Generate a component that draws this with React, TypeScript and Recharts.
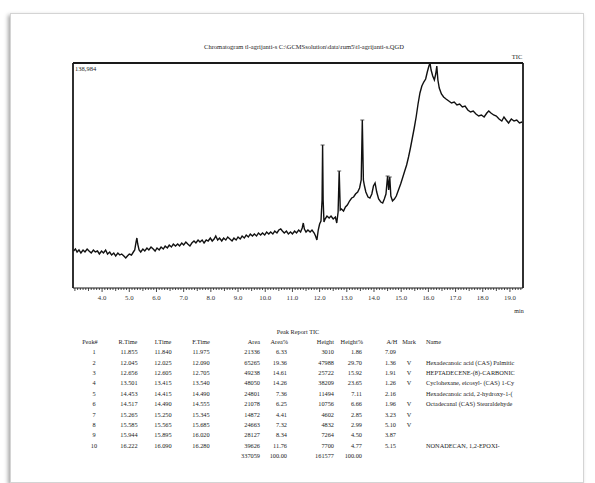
import React from "react";
import { LineChart, Line, XAxis, YAxis, ReferenceDot } from "recharts";

// Chromatogram trace: [retention time (min), intensity]
const trace: [number, number][] = [
  [2.95,22855],[3.02,24090],[3.08,22237],[3.15,23473],[3.22,21620],[3.30,23473],[3.37,22237],[3.45,24090],[3.52,22855],[3.60,21620],
  [3.68,23473],[3.75,22237],[3.83,22855],[3.90,21002],[3.98,22855],[4.05,21620],[4.13,23473],[4.20,21002],[4.28,22237],[4.35,20384],
  [4.43,21620],[4.50,19766],[4.58,21620],[4.65,20384],[4.72,21002],[4.80,19766],[4.87,18531],[4.93,19766],[5.00,21002],[5.08,20384],
  [5.15,22237],[5.20,23473],[5.25,28414],[5.28,30885],[5.31,27179],[5.36,23473],[5.42,22237],[5.50,24090],[5.57,22855],[5.65,24708],
  [5.72,23473],[5.80,25326],[5.88,24090],[5.95,22855],[6.02,24708],[6.10,23473],[6.17,25326],[6.25,24090],[6.32,25943],[6.40,24708],
  [6.47,26561],[6.55,25326],[6.62,27179],[6.70,25943],[6.78,27179],[6.85,25943],[6.93,27797],[7.00,26561],[7.08,28414],[7.15,27179],
  [7.23,25943],[7.30,27797],[7.38,29032],[7.45,27797],[7.53,29650],[7.60,28414],[7.68,29650],[7.75,27797],[7.83,29650],[7.90,29032],
  [7.98,30885],[8.05,29032],[8.12,30267],[8.18,32120],[8.25,29650],[8.32,30885],[8.40,29032],[8.47,30885],[8.55,29650],[8.62,31503],
  [8.70,30267],[8.78,29032],[8.85,30885],[8.93,29650],[9.00,31503],[9.08,30267],[9.15,32120],[9.23,30885],[9.30,32738],[9.38,31503],
  [9.45,33356],[9.53,32120],[9.60,33356],[9.68,32120],[9.75,33974],[9.83,32738],[9.90,33974],[9.98,32738],[10.05,34591],[10.13,33356],
  [10.20,34591],[10.28,33356],[10.35,35209],[10.43,33974],[10.50,35827],[10.57,36444],[10.63,35209],[10.70,33974],[10.78,35209],[10.85,33356],
  [10.93,34591],[11.00,33356],[11.08,35209],[11.15,33974],[11.23,35827],[11.30,34591],[11.36,37062],[11.40,40151],[11.44,36444],[11.50,34591],
  [11.57,35827],[11.65,34591],[11.72,35827],[11.80,33974],[11.85,32120],[11.90,29650],[11.95,35827],[12.00,39533],[12.05,41386],[12.09,54358],
  [12.11,88331],[12.13,54358],[12.16,40768],[12.20,42621],[12.27,44474],[12.35,43239],[12.42,44474],[12.50,42621],[12.58,43857],[12.63,40151],
  [12.68,46945],[12.72,72271],[12.76,48181],[12.80,48798],[12.88,47563],[12.95,50034],[13.02,51269],[13.10,53740],[13.18,55593],[13.25,56211],
  [13.32,58064],[13.40,59299],[13.47,61770],[13.53,66712],[13.57,103774],[13.61,66712],[13.65,63005],[13.70,59299],[13.78,56211],[13.85,55593],
  [13.92,58064],[13.98,63005],[14.04,64859],[14.10,59299],[14.17,54975],[14.25,53122],[14.32,52505],[14.38,54975],[14.44,58064],[14.50,69182],
  [14.54,60535],[14.58,68565],[14.62,56828],[14.68,53740],[14.75,54975],[14.82,56828],[14.90,60535],[14.98,64241],[15.05,67947],[15.13,72271],
  [15.20,75977],[15.27,80919],[15.34,86478],[15.41,92655],[15.48,98832],[15.55,105627],[15.62,113657],[15.69,120452],[15.76,124775],[15.83,127246],
  [15.90,129099],[15.96,133423],[16.02,137129],[16.06,138900],[16.10,134659],[16.16,130952],[16.22,128482],[16.27,132188],[16.31,137129],[16.35,128482],
  [16.40,123540],[16.48,119834],[16.56,117981],[16.65,116745],[16.75,115510],[16.85,114275],[16.95,114892],[17.05,113039],[17.15,113657],[17.25,111804],
  [17.35,112421],[17.45,109951],[17.55,108715],[17.65,109333],[17.75,107480],[17.85,106244],[17.95,106862],[18.05,105627],[18.15,108098],[18.22,109333],
  [18.30,108098],[18.40,106862],[18.50,106244],[18.60,104391],[18.70,103156],[18.78,105627],[18.86,103774],[18.95,101921],[19.05,104391],[19.15,103156],
  [19.25,103774],[19.35,101921],[19.45,102538],
];

const fullScale = 138984;
const xDomain: [number, number] = [2.93, 19.48];
const majorTicks = [4, 5, 6, 7, 8, 9, 10, 11, 12, 13, 14, 15, 16, 17, 18, 19];

// peak-top markers [time, intensity]
const peakTops: [number, number][] = [
  [12.11, 88331], [12.72, 72271], [13.57, 103774], [14.50, 69182], [14.58, 68565],
];

// Peak report table
const peakNo = ["1", "2", "3", "4", "5", "6", "7", "8", "9", "10"];
const rTime = ["11.855", "12.045", "12.656", "13.501", "14.453", "14.517", "15.265", "15.585", "15.944", "16.222"];
const iTime = ["11.840", "12.025", "12.605", "13.415", "14.415", "14.490", "15.250", "15.565", "15.895", "16.090"];
const fTime = ["11.975", "12.090", "12.705", "13.540", "14.490", "14.555", "15.345", "15.685", "16.020", "16.280"];
const area = ["21336", "65265", "49238", "48050", "24801", "21078", "14872", "24663", "28127", "39626"];
const areaPct = ["6.33", "19.36", "14.61", "14.26", "7.36", "6.25", "4.41", "7.32", "8.34", "11.76"];
const height = ["3010", "47988", "25722", "38209", "11494", "10756", "4602", "4832", "7264", "7700"];
const heightPct = ["1.86", "29.70", "15.92", "23.65", "7.11", "6.66", "2.85", "2.99", "4.50", "4.77"];
const aH = ["7.09", "1.36", "1.91", "1.26", "2.16", "1.96", "3.23", "5.10", "3.87", "5.15"];
const mark = ["", "V", "V", "V", "", "V", "V", "V", "", ""];
const names = [
  "",
  "Hexadecanoic acid (CAS) Palmitic",
  "HEPTADECENE-(8)-CARBONIC",
  "Cyclohexane, eicosyl- (CAS) 1-Cy",
  "Hexadecanoic acid, 2-hydroxy-1-(",
  "Octadecanal (CAS) Stearaldehyde",
  "",
  "",
  "",
  "NONADECAN, 1,2-EPOXI-",
];
const totals = ["337059", "100.00", "161577", "100.00"];

const data = trace.map(([t, v]) => ({ t, v }));
const allTicks: number[] = [];
for (let i = 30; i <= 194; i++) allTicks.push(i / 10);

const FONT = "'Liberation Serif', 'DejaVu Serif', serif";
const INK = "#1a1a1a";

const AxisTick = (props: any) => {
  const { x, y, payload } = props;
  const v = payload.value as number;
  const isMajor = majorTicks.some((m) => Math.abs(m - v) < 1e-6);
  const isHalf = Math.abs(v * 2 - Math.round(v * 2)) < 1e-6;
  const len = isMajor ? 4 : isHalf ? 3 : 2;
  return (
    <g>
      <line x1={x} x2={x} y1={y} y2={y + len} stroke={INK} strokeWidth={0.8} />
      {isMajor && (
        <text x={x} y={y + 12} textAnchor="middle" fontSize={6.8} fontFamily={FONT} fill="#333">
          {v.toFixed(1)}
        </text>
      )}
    </g>
  );
};

const txt = (s: string, x: number, y: number, align: "left" | "center" | "right", key: string, size = 6.3) => {
  const style: React.CSSProperties = {
    position: "absolute",
    top: y - size * 0.6,
    fontSize: size,
    lineHeight: `${size * 1.2}px`,
    fontFamily: FONT,
    color: "#222",
    whiteSpace: "nowrap",
  };
  if (align === "left") style.left = x;
  if (align === "center") { style.left = x; style.transform = "translateX(-50%)"; }
  if (align === "right") { style.left = x; style.transform = "translateX(-100%)"; }
  return <div key={key} style={style}>{s}</div>;
};

export default function App() {
  const rowY = (i: number) => 352 + i * 10.4;
  const cells: React.ReactNode[] = [];
  cells.push(txt("Peak Report TIC", 298, 332, "center", "pr"));
  const hy = 342;
  cells.push(txt("Peak#", 90, hy, "center", "h0"));
  cells.push(txt("R.Time", 128, hy, "center", "h1"));
  cells.push(txt("I.Time", 163, hy, "center", "h2"));
  cells.push(txt("F.Time", 201, hy, "center", "h3"));
  cells.push(txt("Area", 260, hy, "right", "h4"));
  cells.push(txt("Area%", 288, hy, "right", "h5"));
  cells.push(txt("Height", 334, hy, "right", "h6"));
  cells.push(txt("Height%", 363, hy, "right", "h7"));
  cells.push(txt("A/H", 392, hy, "center", "h8"));
  cells.push(txt("Mark", 409, hy, "center", "h9"));
  cells.push(txt("Name", 426, hy, "left", "h10"));
  peakNo.forEach((p, i) => {
    const y = rowY(i);
    cells.push(txt(p, 94, y, "center", `a${i}`));
    cells.push(txt(rTime[i], 129, y, "center", `b${i}`));
    cells.push(txt(iTime[i], 163, y, "center", `c${i}`));
    cells.push(txt(fTime[i], 201, y, "center", `d${i}`));
    cells.push(txt(area[i], 260, y, "right", `e${i}`));
    cells.push(txt(areaPct[i], 287, y, "right", `f${i}`));
    cells.push(txt(height[i], 334, y, "right", `g${i}`));
    cells.push(txt(heightPct[i], 362, y, "right", `h${i}`));
    cells.push(txt(aH[i], 396, y, "right", `i${i}`));
    if (mark[i]) cells.push(txt(mark[i], 409, y, "center", `j${i}`));
    if (names[i]) cells.push(txt(names[i], 426, y, "left", `k${i}`));
  });
  const ty = rowY(10);
  cells.push(txt(totals[0], 260, ty, "right", "t0"));
  cells.push(txt(totals[1], 287, ty, "right", "t1"));
  cells.push(txt(totals[2], 334, ty, "right", "t2"));
  cells.push(txt(totals[3], 362, ty, "right", "t3"));

  return (
    <div style={{ position: "absolute", left: 0, top: 0, width: 595, height: 483, background: "#fff", overflow: "hidden" }}>
      <div
        style={{
          position: "absolute",
          left: 10,
          top: 13,
          width: 572,
          height: 468,
          background: "#fff",
          border: "1px solid #d4d4d4",
          boxShadow: "-2px 2px 4px rgba(0,0,0,0.35)",
        }}
      />
      <div style={{ position: "absolute", left: 0, top: 0 }}>
        <LineChart width={595} height={330} data={data} margin={{ top: 62, right: 71, left: 72, bottom: 22 }}>
          <XAxis
            dataKey="t"
            type="number"
            domain={xDomain}
            ticks={allTicks}
            interval={0}
            allowDataOverflow
            tickSize={0}
            tickMargin={0}
            tickLine={false}
            tick={<AxisTick />}
            height={20}
            axisLine={{ stroke: INK, strokeWidth: 1.2 }}
          />
          <XAxis
            xAxisId="top"
            orientation="top"
            dataKey="t"
            type="number"
            domain={xDomain}
            allowDataOverflow
            height={1}
            tick={false}
            tickLine={false}
            axisLine={{ stroke: INK, strokeWidth: 1.8 }}
          />
          <YAxis
            type="number"
            domain={[0, fullScale]}
            allowDataOverflow
            width={1}
            tick={false}
            tickLine={false}
            axisLine={{ stroke: INK, strokeWidth: 1.8 }}
          />
          <YAxis
            yAxisId="right"
            orientation="right"
            type="number"
            domain={[0, fullScale]}
            allowDataOverflow
            width={1}
            tick={false}
            tickLine={false}
            axisLine={{ stroke: INK, strokeWidth: 1.8 }}
          />
          <Line
            type="linear"
            dataKey="v"
            stroke="#111"
            strokeWidth={1.4}
            dot={false}
            isAnimationActive={false}
          />
          {peakTops.map(([t, v], i) => (
            <ReferenceDot
              key={i}
              x={t}
              y={v}
              r={0}
              shape={(p: any) => (
                <line x1={p.cx - 2} x2={p.cx + 2} y1={p.cy} y2={p.cy} stroke="#333" strokeWidth={0.8} />
              )}
            />
          ))}
        </LineChart>
      </div>
      {txt("Chromatogram tl-agrijanti-s C:\\GCMSsolution\\data\\rum5\\tl-agrijanti-s.QGD", 304, 47, "center", "title", 6.5)}
      {txt("TIC", 517, 57, "center", "tic", 6.5)}
      {txt("138,984", 75, 69, "left", "fs", 6.5)}
      {txt("min", 519, 312, "center", "min", 6)}
      {cells}
    </div>
  );
}
